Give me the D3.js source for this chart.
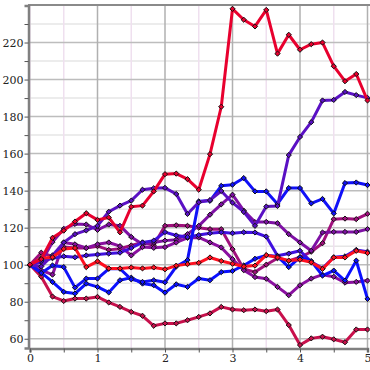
<!DOCTYPE html>
<meta charset="utf-8">
<html>
<script src="https://d3js.org/d3.v7.min.js"></script>
<style>
  body { margin: 0; background: #fff; }
</style>
<div id="chart"></div>
<script>

// x positions: 31 steps of 1/6
var steps = d3.range(31).map(function(i) { return i / 6; });

var seriesA = [100,103,114.5,118.4,123.3,127.8,124.2,125.5,117.5,131.3,131.9,139.6,148.9,149.2,146.2,140.5,159.7,185.3,238.2,232.3,228.7,237.6,214,224.2,216.1,219.1,220,207.2,199.1,203,188.7];
var seriesF = [100,103.5,104,108.5,109,98.7,101.8,98,98,98.5,98,98.5,97.5,99.5,100.3,101,103.9,102,100.5,99,99.5,105.2,103.9,102.2,102.7,101.3,97.7,103.9,103.9,107.5,106.3];
var seriesJ = [100,93.5,82.8,80.4,81.7,81.7,82.6,79.6,77.2,74.5,72.4,67,68.3,68.3,70,71.8,73.7,77.2,75.8,75.4,75.8,74.9,75.8,67.4,56.6,60.2,61.1,59.7,58.1,65,65];
var seriesD = [100,106.5,104.5,109.5,109,109,110,108,108.6,110.4,112,110.5,121,121.3,121,120,119.2,119.2,108.4,97.7,96,100,103.5,102,104,107,111.6,124.6,124.9,124.6,127.5];
var seriesE = [100,101.4,112.2,119.4,122,121.7,118.8,121.7,121,115,111,112,113,113.5,116.5,121,127,132.6,137.8,129.2,123,123.1,122.4,116.5,112,107.5,117.4,117.7,117.7,117.7,119.2];
var seriesI = [100,97,94.6,112,111,109,111,112,110,105,109.5,109.1,109.5,112,114.5,114.7,112,109.3,103,97,93.3,92.4,88,83.5,88.9,92.5,94.6,93.5,90.3,90.7,91.4];
var seriesB = [100,99,105,112,116.5,118.5,121,128.6,131.9,134.6,140.5,141.3,141.5,138.2,127.4,133.7,134.9,139.8,133.5,128.5,121,131.4,131.7,159.2,169,177,188.7,189,193.3,191.6,190.1];
var seriesG = [100,102,103.5,104.5,104,105,105.5,106,106.5,109,112,113,117.6,115.8,114.9,116,117,117.5,117,117.5,117.4,115.2,104.8,106,107.5,101.5,98,104,104.5,108,107];
var seriesC = [100,95.5,99.6,98.7,87.6,92.5,92.5,97.8,97.8,92.1,90.7,91.6,90.5,99,102.5,134.2,134.5,142.6,143.2,146.8,139.6,139.6,132.8,141.4,141.4,133.1,135.5,127.7,144.1,144.4,143];
var seriesH = [100,95.7,90.7,85.3,84.4,89.8,88,85,91.6,93,89.8,88.9,84.9,89.4,88,92.5,91.6,96,96.6,99.6,103.2,105,104.5,98.7,104,102,94.1,96.8,91.4,102.2,81.5];

var allSeries = [seriesJ, seriesD, seriesE, seriesI, seriesG, seriesH, seriesC, seriesB, seriesF, seriesA];
var lineColors = ["#c8104c", "#a0107c", "#7e10a4", "#8a10a0", "#4010e0", "#0a10ff", "#1010f8", "#5a10c4", "#ff1020", "#e8002e"];

var xTicks = [0, 1, 2, 3, 4, 5];
var yTicks = [60, 80, 100, 120, 140, 160, 180, 200, 220];

var width = 370,
    height = 370;

var x = d3.scaleLinear().domain([0, 5]).range([30, 367.5]);
var y = d3.scaleLinear().domain([55, 240]).range([348, 5.5]);

var svg = d3.select("#chart")
  .append("svg")
    .attr("width", width)
    .attr("height", height);

// grid - minor first
svg.selectAll("line.hminor")
  .data(d3.range(70, 231, 20))
  .enter().append("line")
    .attr("x1", 30).attr("x2", width)
    .attr("y1", function(d) { return y(d); })
    .attr("y2", function(d) { return y(d); })
    .attr("stroke", "#e6e6e6")
    .attr("stroke-width", 1.5);

svg.selectAll("line.vminor")
  .data([0, 0.5, 1.5, 2.5, 3.5, 4.5])
  .enter().append("line")
    .attr("x1", function(d) { return x(d); })
    .attr("x2", function(d) { return x(d); })
    .attr("y1", 5).attr("y2", 348)
    .attr("stroke", "#efe0ef")
    .attr("stroke-width", 1.5);

svg.selectAll("line.hmajor")
  .data(yTicks)
  .enter().append("line")
    .attr("x1", 30).attr("x2", width)
    .attr("y1", function(d) { return y(d); })
    .attr("y2", function(d) { return y(d); })
    .attr("stroke", "#bdbdbd")
    .attr("stroke-width", 1.5);

svg.selectAll("line.vmajor")
  .data(xTicks.slice(1))
  .enter().append("line")
    .attr("x1", function(d) { return x(d); })
    .attr("x2", function(d) { return x(d); })
    .attr("y1", 5).attr("y2", 348)
    .attr("stroke", "#b0b0b0")
    .attr("stroke-width", 1.5);

// frame top
svg.append("line")
  .attr("x1", 28).attr("x2", width)
  .attr("y1", 5).attr("y2", 5)
  .attr("stroke", "#8a8a8a").attr("stroke-width", 2);

// axes
var yAxis = d3.axisLeft(y)
  .tickValues(d3.range(60, 231, 10))
  .tickFormat(function(d) { return d % 20 == 0 ? d : ""; })
  .tickSize(4)
  .tickPadding(1);

var gy = svg.append("g")
  .attr("transform", "translate(28.5,0)")
  .call(yAxis);

gy.select(".domain").attr("stroke", "#808080").attr("stroke-width", 2.5);
gy.selectAll(".tick line").attr("stroke", "#555");
gy.selectAll(".tick text")
  .style("font-family", "DejaVu Serif")
  .style("font-size", "11px")
  .attr("fill", "#222");

var xAxis = d3.axisBottom(x)
  .tickValues(d3.range(0, 5.01, 0.5))
  .tickFormat(function(d) { return d % 1 == 0 ? d : ""; })
  .tickSize(4)
  .tickPadding(2);

var gx = svg.append("g")
  .attr("transform", "translate(0,348.5)")
  .call(xAxis);

gx.select(".domain").attr("stroke", "#808080").attr("stroke-width", 2.5);
gx.selectAll(".tick line").attr("stroke", "#555");
gx.selectAll(".tick text")
  .style("font-family", "DejaVu Serif")
  .style("font-size", "11px")
  .attr("fill", "#222");

// lines
var line = d3.line()
  .x(function(d, i) { return x(steps[i]); })
  .y(function(d) { return y(d); });

var diamond = "M0,-2.6L2.6,0L0,2.6L-2.6,0Z";

allSeries.forEach(function(s, k) {
  svg.append("path")
    .datum(s)
    .attr("d", line)
    .attr("fill", "none")
    .attr("stroke", lineColors[k])
    .attr("stroke-width", 3)
    .attr("stroke-linejoin", "round");

  svg.selectAll(null)
    .data(s)
    .enter().append("path")
      .attr("d", diamond)
      .attr("transform", function(d, i) { return "translate(" + x(steps[i]) + "," + y(d) + ")"; })
      .attr("fill", lineColors[k])
      .attr("stroke", "#111")
      .attr("stroke-width", 1);
});

</script>
</html>
